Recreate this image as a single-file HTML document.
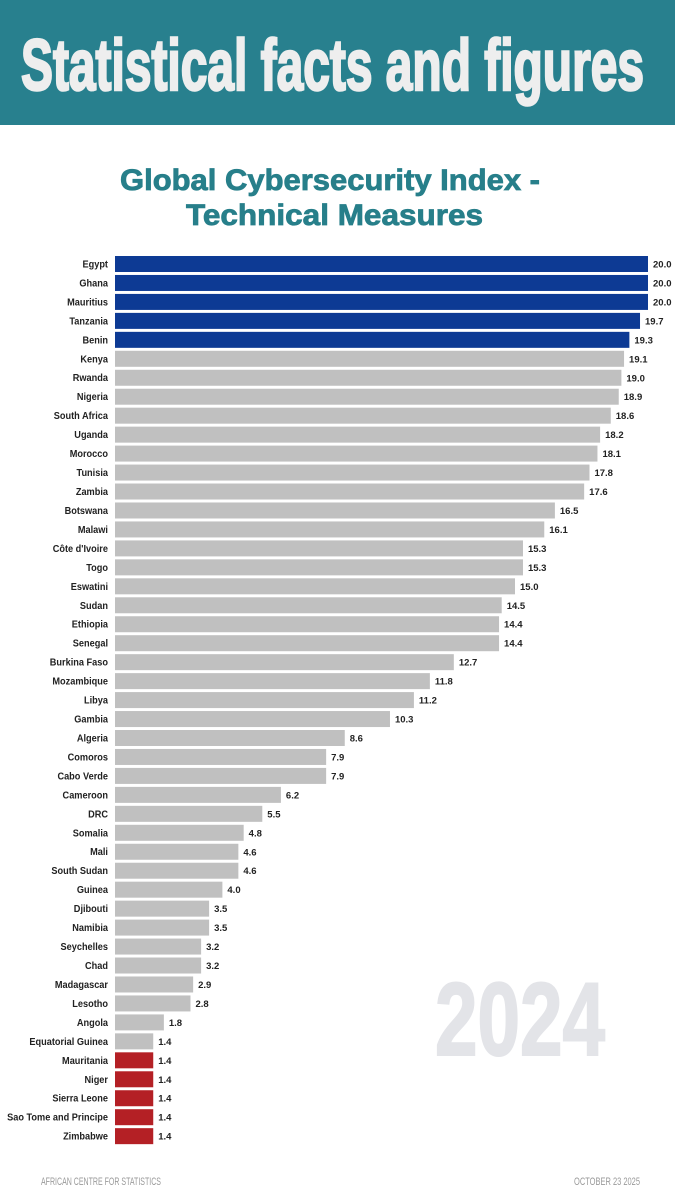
<!DOCTYPE html>
<html><head><meta charset="utf-8"><style>
body{margin:0;width:675px;height:1200px;background:#fff;position:relative;overflow:hidden;font-family:"Liberation Sans",sans-serif}
svg{position:absolute;left:0;top:0}
</style></head><body>
<svg width="675" height="1200" xmlns="http://www.w3.org/2000/svg" font-family="Liberation Sans, sans-serif">
<rect x="0" y="0" width="675" height="125" fill="#28808e"/>
<text x="21" y="90" font-size="72" font-weight="bold" fill="#eeeeee" stroke="#eeeeee" stroke-width="2.5" textLength="623" lengthAdjust="spacingAndGlyphs">Statistical facts and figures</text>
<text x="120" y="190" font-size="30" font-weight="bold" fill="#277f8a" stroke="#277f8a" stroke-width="0.8" textLength="420" lengthAdjust="spacingAndGlyphs">Global Cybersecurity Index -</text>
<text x="186" y="225" font-size="30" font-weight="bold" fill="#277f8a" stroke="#277f8a" stroke-width="0.8" textLength="297" lengthAdjust="spacingAndGlyphs">Technical Measures</text>
<text x="435" y="1055" font-size="104" font-weight="bold" fill="#e3e4e8" stroke="#e3e4e8" stroke-width="2" textLength="170" lengthAdjust="spacingAndGlyphs">2024</text>
<text x="41" y="1185" font-size="11" fill="#9a9a9a" textLength="120" lengthAdjust="spacingAndGlyphs">AFRICAN CENTRE FOR STATISTICS</text>
<text x="574" y="1185" font-size="11" fill="#9a9a9a" textLength="66" lengthAdjust="spacingAndGlyphs">OCTOBER 23 2025</text>
<g id="c"></g>
</svg>
<script>
var d=[["Egypt",20.0],["Ghana",20.0],["Mauritius",20.0],["Tanzania",19.7],["Benin",19.3],["Kenya",19.1],["Rwanda",19.0],["Nigeria",18.9],["South Africa",18.6],["Uganda",18.2],["Morocco",18.1],["Tunisia",17.8],["Zambia",17.6],["Botswana",16.5],["Malawi",16.1],["Côte d'Ivoire",15.3],["Togo",15.3],["Eswatini",15.0],["Sudan",14.5],["Ethiopia",14.4],["Senegal",14.4],["Burkina Faso",12.7],["Mozambique",11.8],["Libya",11.2],["Gambia",10.3],["Algeria",8.6],["Comoros",7.9],["Cabo Verde",7.9],["Cameroon",6.2],["DRC",5.5],["Somalia",4.8],["Mali",4.6],["South Sudan",4.6],["Guinea",4.0],["Djibouti",3.5],["Namibia",3.5],["Seychelles",3.2],["Chad",3.2],["Madagascar",2.9],["Lesotho",2.8],["Angola",1.8],["Equatorial Guinea",1.4],["Mauritania",1.4],["Niger",1.4],["Sierra Leone",1.4],["Sao Tome and Principe",1.4],["Zimbabwe",1.4]];
var h="";
d.forEach(function(r,i){
var y=256+i*18.96, w=r[1]*26.6+1;
var c=i<5?"#0d3a94":(i>=42?"#b42025":"#c0c0c0");
h+='<text x="108" y="'+(y+11.5)+'" font-size="10" font-weight="bold" fill="#222" text-anchor="end" transform="translate(108 0) scale(0.92 1) translate(-108 0)">'+r[0].replace("'","&#39;")+'</text>';
h+='<rect x="115" y="'+y+'" width="'+w+'" height="16" fill="'+c+'"/>';
h+='<text x="'+(115+w+5)+'" y="'+(y+11.5)+'" font-size="9.5" font-weight="bold" fill="#222">'+r[1].toFixed(1)+'</text>';
});
document.getElementById("c").innerHTML=h;
</script>
</body></html>
